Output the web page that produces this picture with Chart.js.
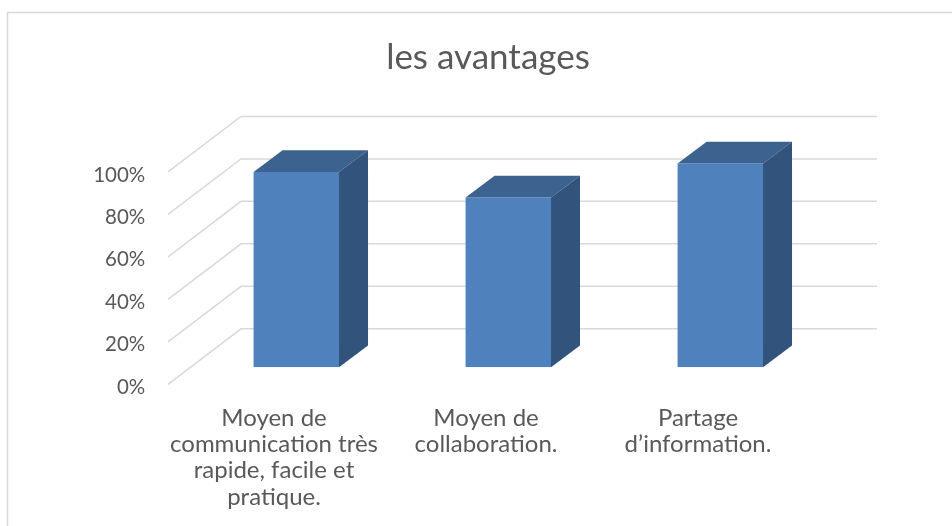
<!DOCTYPE html>
<html lang="fr">
<head>
<meta charset="utf-8">
<title>les avantages</title>
<script src="https://cdn.jsdelivr.net/npm/chart.js@4.4.1/dist/chart.umd.min.js"></script>
<style>
  html, body { margin: 0; padding: 0; background: #fff; }
  #wrap { width: 952px; height: 526px; position: relative; }
</style>
</head>
<body>
<div id="wrap"><canvas id="chart" width="952" height="526"></canvas></div>
<script>
// ─── Data ─────────────────────────────────────────
const categories = [
  ['Moyen de', 'communication très', 'rapide, facile et', 'pratique.'],
  ['Moyen de', 'collaboration.'],
  ['Partage', 'd\u2019information.'],
];
const values = [0.92, 0.80, 0.96];
const yTicks = [0, 0.2, 0.4, 0.6, 0.8, 1];

// ─── Style ────────────────────────────────────────
const TEXT = '#595959';
const GRID = '#d9d9d9';
const FRONT_FACE = '#4f81bd';
const TOP_FACE = '#3c6290';
const SIDE_FACE = '#32537b';
const FONT = "Lato, 'Open Sans', sans-serif";

// oblique projection, relative to the plane of the bars' front faces
const WALL_FRONT = [-22.3, 17];
const WALL_BACK = [50.7, -38.5];
const BAR_DEPTH = [29, -21.7];

function poly(ctx, pts, fill) {
  ctx.beginPath();
  ctx.moveTo(pts[0][0], pts[0][1]);
  for (let i = 1; i < pts.length; i++) ctx.lineTo(pts[i][0], pts[i][1]);
  ctx.closePath();
  ctx.fillStyle = fill;
  ctx.fill();
}

// ─── Frame (chart border) ────────────────────────
const frame = {
  id: 'frame',
  beforeDraw(chart) {
    const { ctx } = chart;
    ctx.save();
    ctx.fillStyle = '#fff';
    ctx.fillRect(0, 0, chart.width, chart.height);
    ctx.strokeStyle = GRID;
    ctx.lineWidth = 1.5;
    ctx.beginPath();
    ctx.moveTo(7.5, chart.height + 2);
    ctx.lineTo(7.5, 12.5);
    ctx.lineTo(chart.width + 2, 12.5);
    ctx.stroke();
    ctx.restore();
  },
};

// ─── 3D walls + bar depth ────────────────────────
const depth3d = {
  id: 'depth3d',
  beforeDatasetsDraw(chart) {
    const { ctx, chartArea: a, scales: { y } } = chart;
    ctx.save();
    ctx.strokeStyle = GRID;
    ctx.lineWidth = 1.5;
    y.ticks.forEach(t => {
      const py = y.getPixelForValue(t.value);
      ctx.beginPath();
      ctx.moveTo(a.left + WALL_FRONT[0], py + WALL_FRONT[1]);
      ctx.lineTo(a.left + WALL_BACK[0], py + WALL_BACK[1]);
      ctx.lineTo(a.right + WALL_BACK[0], py + WALL_BACK[1]);
      ctx.stroke();
    });
    ctx.restore();
  },
  afterDatasetsDraw(chart) {
    const { ctx } = chart;
    const [dx, dy] = BAR_DEPTH;
    ctx.save();
    chart.getDatasetMeta(0).data.forEach(bar => {
      const { x, y, base, width } = bar.getProps(['x', 'y', 'base', 'width'], true);
      const l = x - width / 2, r = x + width / 2;
      poly(ctx, [[l, y], [r, y], [r + dx, y + dy], [l + dx, y + dy]], TOP_FACE);
      poly(ctx, [[r, y], [r, base], [r + dx, base + dy], [r + dx, y + dy]], SIDE_FACE);
    });
    ctx.restore();
  },
};

// ─── Chart ────────────────────────────────────────
new Chart(document.getElementById('chart'), {
  type: 'bar',
  data: {
    labels: categories,
    datasets: [{
      label: 'les avantages',
      data: values,
      backgroundColor: FRONT_FACE,
      borderWidth: 0,
      barPercentage: 0.403,
      categoryPercentage: 1,
    }],
  },
  options: {
    responsive: false,
    animation: false,
    // the original frame runs past the right edge, so the title sits right of centre
    layout: { padding: { left: 24, right: 0, top: 0, bottom: 0 } },
    plugins: {
      legend: { display: false },
      tooltip: { enabled: false },
      title: {
        display: true,
        text: 'les avantages',
        color: TEXT,
        font: { family: FONT, size: 35, weight: 'normal', lineHeight: 1.2 },
        padding: { top: 37, bottom: 75.9 },
      },
    },
    scales: {
      x: {
        grid: { display: false, drawTicks: false },
        border: { display: false },
        ticks: {
          color: TEXT,
          font: { family: FONT, size: 24, lineHeight: 1.09 },
          padding: 38,
          labelOffset: -22.3,
          maxRotation: 0,
          autoSkip: false,
        },
        afterFit(scale) { scale.height = 158.7; },
      },
      y: {
        min: 0,
        max: 1,
        afterBuildTicks(scale) { scale.ticks = yTicks.map(v => ({ value: v })); },
        grid: { display: false, drawTicks: false },
        border: { display: false },
        ticks: {
          color: TEXT,
          font: { family: FONT, size: 20.5 },
          padding: 45,
          labelOffset: 20,
          callback: v => Math.round(v * 100) + '%',
        },
        afterFit(scale) { scale.width = 166.3; },
      },
      // empty strip on the right of the plot
      side: {
        position: 'right',
        grid: { display: false, drawTicks: false },
        border: { display: false },
        ticks: { display: false },
        afterFit(scale) { scale.width = 125.7; },
      },
    },
  },
  plugins: [frame, depth3d],
});
</script>
</body>
</html>
